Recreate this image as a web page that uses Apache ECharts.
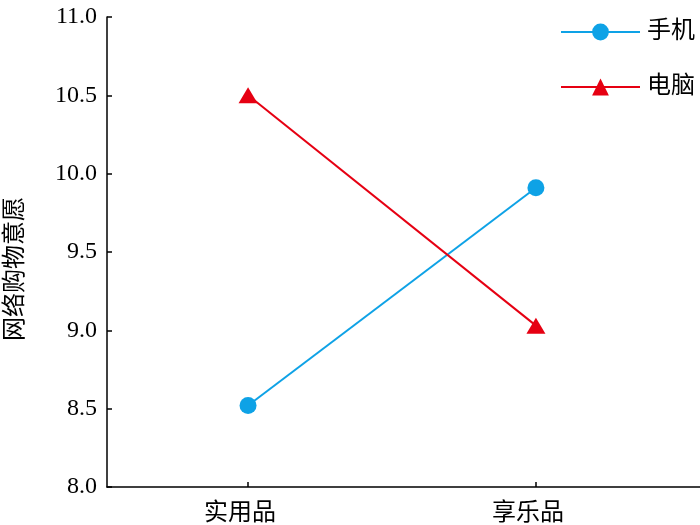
<!DOCTYPE html>
<html>
<head>
<meta charset="utf-8">
<script src="https://cdn.jsdelivr.net/npm/echarts@6/dist/echarts.min.js"></script>
<style>
    html, body { margin: 0; padding: 0; background: #fff; }
    #chart { width: 700px; height: 525px; }
</style>
</head>
<body>
<div id="chart"></div>
<script>
const categories = ['实用品', '享乐品'];
const phoneValues = [8.52, 9.91];   // 手机
const pcValues = [10.50, 9.03];     // 电脑
const yTicks = [8.0, 8.5, 9.0, 9.5, 10.0, 10.5, 11.0];

const font = '"Liberation Serif", "Noto Sans CJK SC", serif';
const chart = echarts.init(document.getElementById('chart'));

const toPoints = vals => vals.map((v, i) => [i, v]);

const option = {
    backgroundColor: '#fff',
    grid: {
        left: 107,
        right: 0,
        top: 17,
        bottom: 38,
        outerBoundsMode: 'none'
    },
    legend: {
        orient: 'vertical',
        left: 560,
        top: 20,
        padding: 0,
        itemWidth: 79,
        itemHeight: 21,
        itemGap: 31,
        textStyle: {
            fontFamily: font,
            fontSize: 24,
            color: '#000',
            padding: [0, 0, 0, 2]
        },
        data: ['手机', '电脑']
    },
    xAxis: {
        type: 'value',
        min: -0.49,
        max: 1.57,
        splitLine: { show: false },
        axisLine: { onZero: false, lineStyle: { color: '#000', width: 1.5 } },
        axisTick: {
            inside: true,
            length: 5,
            customValues: [0, 1],
            lineStyle: { color: '#000', width: 1.5 }
        },
        axisLabel: {
            customValues: [0, 1],
            formatter: v => categories[Math.round(v)],
            fontFamily: font,
            fontSize: 24,
            color: '#000',
            margin: 15,
            padding: [0, 16, 0, 0]
        }
    },
    yAxis: {
        type: 'value',
        min: 8,
        max: 11,
        interval: 0.5,
        name: '网络购物意愿',
        nameLocation: 'middle',
        nameGap: 79,
        nameTextStyle: {
            fontFamily: font,
            fontSize: 24,
            color: '#000',
            padding: [0, 34, 0, 0]
        },
        splitLine: { show: false },
        axisLine: { show: true, onZero: false, lineStyle: { color: '#000', width: 1.5 } },
        axisTick: {
            show: true,
            inside: true,
            length: 5,
            lineStyle: { color: '#000', width: 1.5 }
        },
        axisLabel: {
            formatter: v => yTicks.includes(v) ? v.toFixed(1) : '',
            fontFamily: font,
            fontSize: 24,
            color: '#000',
            margin: 10
        }
    },
    series: [
        {
            name: '手机',
            type: 'line',
            data: toPoints(phoneValues),
            symbol: 'circle',
            symbolSize: 17,
            lineStyle: { color: '#0ea2e6', width: 2 },
            itemStyle: { color: '#0ea2e6' }
        },
        {
            name: '电脑',
            type: 'line',
            data: toPoints(pcValues),
            symbol: 'triangle',
            symbolSize: [19, 16],
            lineStyle: { color: '#e60012', width: 2 },
            itemStyle: { color: '#e60012' }
        }
    ]
};

chart.setOption(option);
</script>
</body>
</html>
